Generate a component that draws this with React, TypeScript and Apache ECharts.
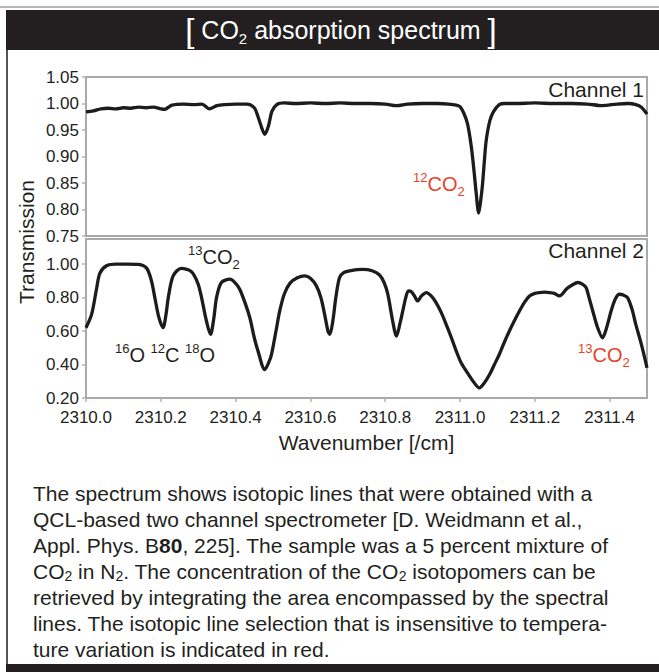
import React, { useEffect, useRef } from 'react';
import * as echarts from 'echarts';

const FF = "'Liberation Sans', Arial, Helvetica, sans-serif";
const RED = '#e8412c';
const INK = '#231f20';

// Channel 1 (top panel)
const ch1Wavenumber = [
  2310.0, 2310.02, 2310.04, 2310.06, 2310.08, 2310.1, 2310.12, 2310.14, 2310.16, 2310.18,
  2310.2, 2310.21, 2310.23, 2310.26, 2310.29, 2310.31, 2310.33, 2310.35, 2310.37, 2310.4,
  2310.43, 2310.45, 2310.46, 2310.468, 2310.478, 2310.488, 2310.497, 2310.51, 2310.53,
  2310.56, 2310.6, 2310.64, 2310.68, 2310.72, 2310.76, 2310.8, 2310.83, 2310.86, 2310.9,
  2310.94, 2310.97, 2310.99, 2311.0, 2311.01, 2311.02, 2311.03, 2311.037, 2311.043, 2311.05,
  2311.055, 2311.06, 2311.065, 2311.07, 2311.08, 2311.09, 2311.105, 2311.12, 2311.15,
  2311.2, 2311.25, 2311.3, 2311.34, 2311.38, 2311.42, 2311.45, 2311.47, 2311.485, 2311.5,
];
const ch1Transmission = [
  0.984, 0.986, 0.99, 0.991, 0.99, 0.992, 0.991, 0.993, 0.992, 0.993,
  0.99, 0.989, 0.997, 0.999, 0.998, 0.999, 0.99, 0.996, 0.998, 0.999,
  0.999, 0.992, 0.975, 0.958, 0.942, 0.958, 0.985, 0.998, 1.001,
  1.0, 1.001, 1.0, 1.001, 1.0, 1.0, 0.999, 0.996, 0.999, 1.0,
  1.0, 0.999, 0.997, 0.994, 0.982, 0.962, 0.92, 0.876, 0.833, 0.793,
  0.815, 0.846, 0.89, 0.93, 0.968, 0.985, 0.998, 1.0, 1.0,
  1.001, 1.0, 1.0, 0.999, 0.996, 0.999, 1.0, 0.998, 0.993, 0.98,
];

// Channel 2 (bottom panel)
const ch2Wavenumber = [
  2310.0, 2310.015, 2310.028, 2310.037, 2310.055, 2310.08, 2310.11, 2310.14, 2310.162, 2310.175,
  2310.184, 2310.195, 2310.206, 2310.214, 2310.22, 2310.233, 2310.255, 2310.275, 2310.286, 2310.3,
  2310.309, 2310.322, 2310.333, 2310.342, 2310.349, 2310.362, 2310.385, 2310.4, 2310.411, 2310.425,
  2310.438, 2310.45, 2310.46, 2310.478, 2310.49, 2310.496, 2310.508, 2310.518, 2310.53, 2310.545,
  2310.565, 2310.585, 2310.6, 2310.616, 2310.628, 2310.638, 2310.647, 2310.652, 2310.66, 2310.668,
  2310.678, 2310.69, 2310.705, 2310.74, 2310.765, 2310.785, 2310.797, 2310.807, 2310.82, 2310.83,
  2310.84, 2310.847, 2310.855, 2310.862, 2310.87, 2310.878, 2310.887, 2310.897, 2310.91, 2310.923,
  2310.936, 2310.95, 2310.963, 2310.977, 2310.99, 2311.003, 2311.017, 2311.035, 2311.052, 2311.065,
  2311.079, 2311.092, 2311.105, 2311.118, 2311.132, 2311.145, 2311.159, 2311.172, 2311.186, 2311.2,
  2311.212, 2311.226, 2311.239, 2311.252, 2311.266, 2311.275, 2311.284, 2311.3, 2311.315, 2311.327,
  2311.337, 2311.345, 2311.355, 2311.368, 2311.381, 2311.392, 2311.404, 2311.415, 2311.426, 2311.437,
  2311.448, 2311.46, 2311.47, 2311.485, 2311.5,
];
const ch2Transmission = [
  0.62, 0.7, 0.85, 0.945, 0.99, 1.0, 1.0, 0.998, 0.976, 0.9,
  0.8, 0.68, 0.62, 0.7, 0.8, 0.93, 0.975, 0.965, 0.945, 0.88,
  0.8, 0.66, 0.58, 0.68, 0.8, 0.89, 0.91, 0.885, 0.85, 0.77,
  0.68, 0.56, 0.48, 0.37, 0.42, 0.46, 0.6, 0.72, 0.82, 0.885,
  0.918, 0.93, 0.915, 0.87, 0.8, 0.7, 0.6, 0.58, 0.66, 0.8,
  0.92, 0.95, 0.96, 0.968, 0.96, 0.935, 0.89, 0.82, 0.66, 0.57,
  0.65, 0.72, 0.8, 0.84, 0.835, 0.81, 0.78, 0.81, 0.83, 0.81,
  0.77, 0.71, 0.64, 0.56, 0.48, 0.41, 0.36, 0.3, 0.26, 0.29,
  0.34, 0.4, 0.46, 0.53, 0.6, 0.66, 0.72, 0.77, 0.81, 0.825,
  0.83, 0.832, 0.83, 0.825, 0.81, 0.825, 0.85, 0.875, 0.89, 0.88,
  0.86, 0.8, 0.72, 0.62, 0.56, 0.62, 0.72, 0.79, 0.82, 0.815,
  0.8, 0.73, 0.64, 0.52, 0.38,
];

const xTickValues = [2310.0, 2310.2, 2310.4, 2310.6, 2310.8, 2311.0, 2311.2, 2311.4];
const ch1TickValues = [0.75, 0.8, 0.85, 0.9, 0.95, 1.0, 1.05];
const ch2TickValues = [0.2, 0.4, 0.6, 0.8, 1.0];

const titleText = '{br|[} CO{sub|2} absorption spectrum {br|]}';
const captionLines = [
  'The spectrum shows isotopic lines that were obtained with a',
  'QCL-based two channel spectrometer [D. Weidmann et al.,',
  'Appl. Phys. B{b|80}, 225]. The sample was a 5 percent mixture of',
  'CO{sub|2} in N{sub|2}. The concentration of the CO{sub|2} isotopomers can be',
  'retrieved by integrating the area encompassed by the spectral',
  'lines. The isotopic line selection that is insensitive to tempera-',
  'ture variation is indicated in red.',
];

const labelRich = (color: string) => ({
  m: { fontSize: 20, fontFamily: FF, fill: color, lineHeight: 26 },
  sup: { fontSize: 13, fontFamily: FF, fill: color, lineHeight: 26, height: 12, verticalAlign: 'top' },
  sub: { fontSize: 13, fontFamily: FF, fill: color, lineHeight: 26, height: 12, verticalAlign: 'bottom' },
});

const isoLabel = (text: string, x: number, y: number, color: string) => ({
  type: 'text',
  x,
  y,
  z: 100,
  style: {
    text,
    rich: labelRich(color),
    fill: color,
    fontSize: 20,
    fontFamily: FF,
    lineHeight: 26,
    align: 'left',
    verticalAlign: 'middle',
  },
});

export default function App() {
  const ref = useRef<HTMLDivElement>(null);

  useEffect(() => {
    document.body.style.margin = '0';
    if (!ref.current) return;
    const chart = echarts.init(ref.current, null, { renderer: 'svg' });

    const ch1Data = ch1Wavenumber.map((x, i) => [x, ch1Transmission[i]]);
    const ch2Data = ch2Wavenumber.map((x, i) => [x, ch2Transmission[i]]);

    const gridBase = { left: 86, width: 561, show: true, borderColor: '#a9a9a9', borderWidth: 2, backgroundColor: 'transparent' };
    const yAxisBase = {
      type: 'value',
      axisLine: { show: false },
      axisTick: { show: true, length: 4, lineStyle: { color: '#b0b0b0', width: 1.5 } },
      splitLine: { show: false },
      axisLabel: { color: INK, fontSize: 17, fontFamily: FF, margin: 7 },
    };

    const option: any = {
      animation: false,
      backgroundColor: '#ffffff',
      textStyle: { fontFamily: FF },
      grid: [
        { ...gridBase, top: 77, height: 159 },
        { ...gridBase, top: 239, height: 159 },
      ],
      xAxis: [
        {
          type: 'value', gridIndex: 0, min: 2310.0, max: 2311.5,
          axisLine: { show: false }, axisTick: { show: false }, axisLabel: { show: false }, splitLine: { show: false },
        },
        {
          type: 'value', gridIndex: 1, min: 2310.0, max: 2311.5,
          axisLine: { show: false },
          axisTick: { show: true, length: 4, customValues: xTickValues, lineStyle: { color: '#b0b0b0', width: 1.5 } },
          axisLabel: {
            customValues: xTickValues, color: INK, fontSize: 17, fontFamily: FF, margin: 11,
            formatter: (v: number) => v.toFixed(1),
          },
          splitLine: { show: false },
        },
      ],
      yAxis: [
        {
          ...yAxisBase, gridIndex: 0, min: 0.75, max: 1.05,
          axisTick: { ...yAxisBase.axisTick, customValues: ch1TickValues },
          axisLabel: { ...yAxisBase.axisLabel, customValues: ch1TickValues, formatter: (v: number) => v.toFixed(2) },
        },
        {
          ...yAxisBase, gridIndex: 1, min: 0.2, max: 1.15,
          axisTick: { ...yAxisBase.axisTick, customValues: ch2TickValues },
          axisLabel: { ...yAxisBase.axisLabel, customValues: ch2TickValues, formatter: (v: number) => v.toFixed(2) },
        },
      ],
      series: [
        {
          type: 'line', xAxisIndex: 0, yAxisIndex: 0, data: ch1Data, showSymbol: false, smooth: 0.3,
          lineStyle: { color: '#1c1c1c', width: 3.3 },
        },
        {
          type: 'line', xAxisIndex: 1, yAxisIndex: 1, data: ch2Data, showSymbol: false, smooth: 0.3,
          lineStyle: { color: '#1c1c1c', width: 3.3 },
        },
      ],
      graphic: [
        { type: 'line', shape: { x1: 0, y1: 7, x2: 659, y2: 7 }, style: { stroke: '#b5b5b5', lineWidth: 2 } },
        { type: 'rect', shape: { x: 6, y: 10, width: 653, height: 40 }, style: { fill: INK } },
        { type: 'line', shape: { x1: 7, y1: 50, x2: 7, y2: 664 }, style: { stroke: '#555555', lineWidth: 2 } },
        { type: 'rect', shape: { x: 6, y: 664, width: 653, height: 8 }, style: { fill: INK } },
        {
          type: 'text', x: 341, y: 30,
          style: {
            text: titleText, fill: '#ffffff', fontSize: 25, fontFamily: FF, lineHeight: 36,
            align: 'center', verticalAlign: 'middle',
            rich: {
              br: { fontSize: 33, fontFamily: FF, fill: '#ffffff', lineHeight: 36 },
              sub: { fontSize: 15, fontFamily: FF, fill: '#ffffff', lineHeight: 36, height: 20, verticalAlign: 'bottom' },
            },
          },
        },
        {
          type: 'text', x: 26, y: 242, rotation: Math.PI / 2,
          style: { text: 'Transmission', fill: INK, fontSize: 21, fontFamily: FF, align: 'center', verticalAlign: 'middle' },
        },
        {
          type: 'text', x: 366.5, y: 442,
          style: { text: 'Wavenumber [/cm]', fill: INK, fontSize: 21, fontFamily: FF, align: 'center', verticalAlign: 'middle' },
        },
        {
          type: 'text', x: 644, y: 89, z: 100,
          style: { text: 'Channel 1', fill: INK, fontSize: 21, fontFamily: FF, align: 'right', verticalAlign: 'middle' },
        },
        {
          type: 'text', x: 644, y: 250, z: 100,
          style: { text: 'Channel 2', fill: INK, fontSize: 21, fontFamily: FF, align: 'right', verticalAlign: 'middle' },
        },
        isoLabel('{sup|12}{m|CO}{sub|2}', 413, 184, RED),
        isoLabel('{sup|13}{m|CO}{sub|2}', 188, 257, INK),
        isoLabel('{sup|16}{m|O} {sup|12}{m|C} {sup|18}{m|O}', 115, 355, INK),
        isoLabel('{sup|13}{m|CO}{sub|2}', 578, 355, RED),
        {
          type: 'text', x: 33, y: 480,
          style: {
            text: captionLines.join('\n'), fill: INK, fontSize: 21, fontFamily: FF, lineHeight: 26,
            align: 'left', verticalAlign: 'top',
            rich: {
              b: { fontSize: 21, fontFamily: FF, fill: INK, fontWeight: 'bold', lineHeight: 26 },
              sub: { fontSize: 14, fontFamily: FF, fill: INK, lineHeight: 26, height: 16, verticalAlign: 'bottom' },
            },
          },
        },
      ],
    };

    chart.setOption(option);
    return () => chart.dispose();
  }, []);

  return <div ref={ref} style={{ width: 659, height: 672 }} />;
}
